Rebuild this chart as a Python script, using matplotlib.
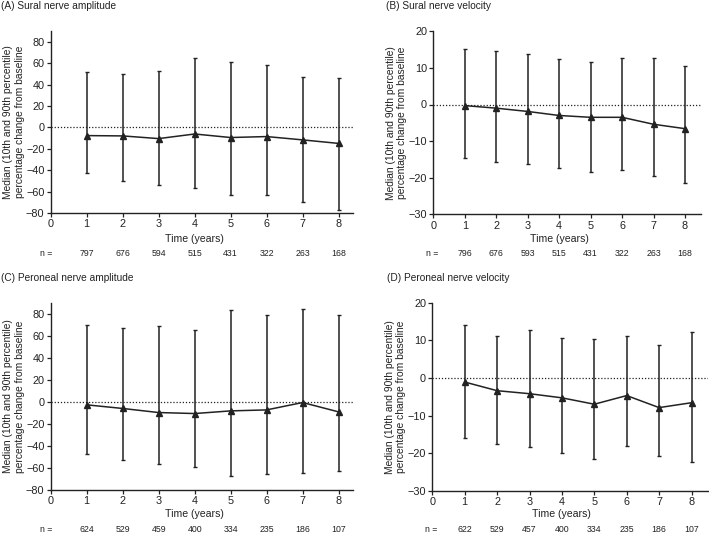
import numpy as np
import matplotlib
matplotlib.use('Agg')
import matplotlib.pyplot as plt
from matplotlib.transforms import blended_transform_factory

plt.rcParams['font.family'] = ['Liberation Sans', 'DejaVu Sans']

# Data (median, 10th and 90th percentile, % change)
years = [1, 2, 3, 4, 5, 6, 7, 8]

sural_amp_med = [-7.7, -8.0, -10.5, -6.2, -9.5, -8.6, -11.7, -15.0]
sural_amp_p90 = [52, 50, 53, 65, 61, 58.5, 47, 46.5]
sural_amp_p10 = [-43, -50, -53.5, -57, -63, -63.5, -69.5, -77]
sural_amp_n = [797, 676, 594, 515, 431, 322, 263, 168]

sural_vel_med = [-0.3, -1.0, -1.9, -3.0, -3.5, -3.5, -5.4, -6.6]
sural_vel_p90 = [15.2, 14.6, 13.7, 12.5, 11.5, 12.7, 12.7, 10.5]
sural_vel_p10 = [-14.5, -15.8, -16.2, -17.3, -18.4, -17.8, -19.5, -21.4]
sural_vel_n = [796, 676, 593, 515, 431, 322, 263, 168]

peroneal_amp_med = [-2.7, -6.0, -9.7, -10.6, -8.2, -7.3, -0.6, -9.1]
peroneal_amp_p90 = [70, 67, 68.8, 64.8, 83, 79, 84, 78.8]
peroneal_amp_p10 = [-47, -52.4, -56.4, -59.4, -67.3, -65.2, -64.2, -62.4]
peroneal_amp_n = [624, 529, 459, 400, 334, 235, 186, 107]

peroneal_vel_med = [-1.1, -3.4, -4.2, -5.3, -7.0, -4.7, -7.9, -6.6]
peroneal_vel_p90 = [14.2, 11.2, 12.7, 10.7, 10.4, 11.2, 8.7, 12.1]
peroneal_vel_p10 = [-15.9, -17.5, -18.4, -20.0, -21.6, -18.1, -20.7, -22.3]
peroneal_vel_n = [622, 529, 457, 400, 334, 235, 186, 107]

W, H = 709, 535
fig = plt.figure(figsize=(W / 100, H / 100), dpi=100)

ylabel = 'Median (10th and 90th percentile)\npercentage change from baseline'
col = '#222222'


def panel(rect, title, title_xy, med, p90, p10, n, ylim, yticks, xmax,
          xlabel_y, n_y, n_label_x):
    ax = fig.add_axes(rect)
    med = np.array(med)
    yerr = [med - np.array(p10), np.array(p90) - med]
    ax.axhline(0, color=col, lw=0.9, ls=(0, (1, 1.5)))
    ax.errorbar(years, med, yerr=yerr, color=col, lw=1.1, elinewidth=1.1,
                capsize=1.5, capthick=1.0, marker='^', ms=4.5, mfc=col, mec=col)
    ax.set_xlim(0, xmax)
    ax.set_ylim(*ylim)
    ax.set_xticks(range(0, 9))
    ax.set_yticks(yticks)
    ax.set_yticklabels([str(t).replace('-', '\u2212') for t in yticks])
    for s in ['top', 'right']:
        ax.spines[s].set_visible(False)
    for s in ['left', 'bottom']:
        ax.spines[s].set_linewidth(1.0)
        ax.spines[s].set_color(col)
    ax.tick_params(direction='out', length=3, width=0.9, labelsize=7.8,
                   colors=col, pad=1.5)
    ax.set_ylabel(ylabel, fontsize=7.4, color=col, labelpad=1, linespacing=1.2)

    tr = blended_transform_factory(ax.transData, fig.transFigure)
    ax.text(4, 1 - xlabel_y / H, 'Time (years)', transform=tr, ha='center',
            va='center', fontsize=7.6, color=col)
    for x, v in zip(years, n):
        ax.text(x, 1 - n_y / H, str(v), transform=tr, ha='center',
                va='center', fontsize=6.3, color=col)
    fig.text(n_label_x / W, 1 - n_y / H, 'n =', ha='center', va='center',
             fontsize=6.3, color=col)
    fig.text(title_xy[0] / W, 1 - title_xy[1] / H, title, ha='left',
             va='center', fontsize=7.3, color=col)
    return ax


def px_rect(left, right, top, bottom):
    return [left / W, 1 - bottom / H, (right - left) / W, (bottom - top) / H]


amp_ticks = [-80, -60, -40, -20, 0, 20, 40, 60, 80]
vel_ticks = [-30, -20, -10, 0, 10, 20]

panel(px_rect(50.7, 353, 31, 213), '(A) Sural nerve amplitude', (1, 6),
      sural_amp_med, sural_amp_p90, sural_amp_p10, sural_amp_n,
      (-80, 90), amp_ticks, 8.4, 238.7, 253, 46.5)

panel(px_rect(433.3, 700.7, 31.3, 214.3), '(B) Sural nerve velocity', (386, 6),
      sural_vel_med, sural_vel_p90, sural_vel_p10, sural_vel_n,
      (-30, 20), vel_ticks, 8.5, 238.7, 253, 431.7)

panel(px_rect(50.7, 353, 302.7, 490), '(C) Peroneal nerve amplitude', (1, 277.7),
      peroneal_amp_med, peroneal_amp_p90, peroneal_amp_p10, peroneal_amp_n,
      (-80, 90), amp_ticks, 8.4, 514, 530, 46.5)

panel(px_rect(432.3, 707.7, 302.7, 490.7), '(D) Peroneal nerve velocity', (387, 277.7),
      peroneal_vel_med, peroneal_vel_p90, peroneal_vel_p10, peroneal_vel_n,
      (-30, 20), vel_ticks, 8.5, 514, 530, 431)

fig.savefig('out.png', dpi=100)
